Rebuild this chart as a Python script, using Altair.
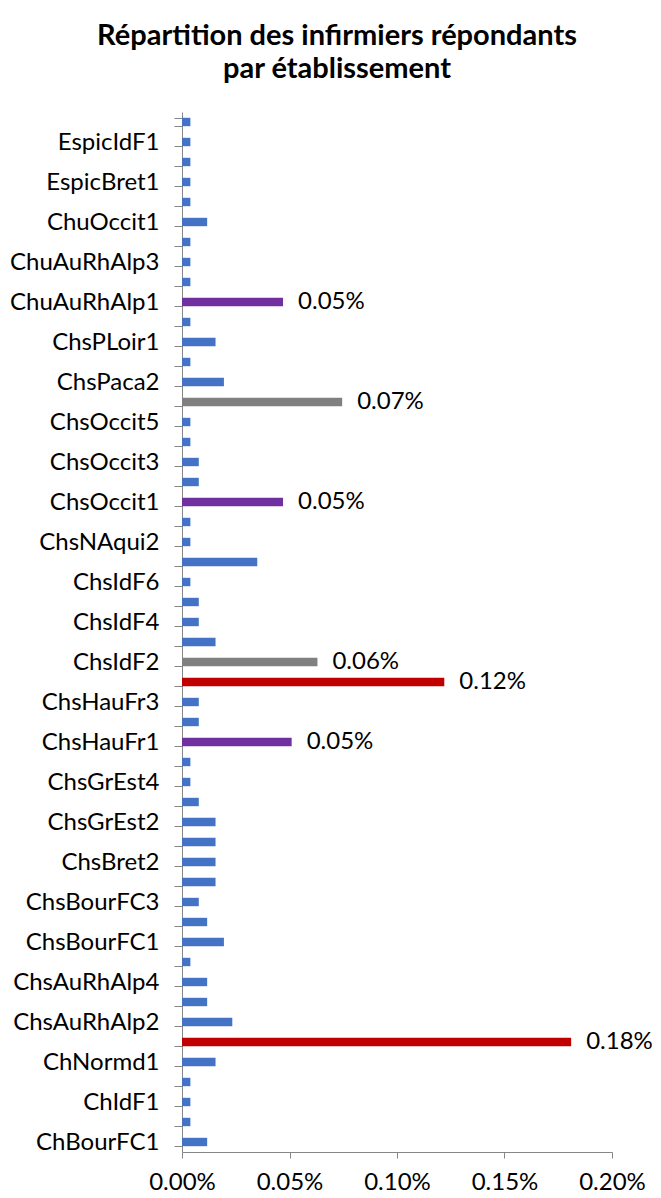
import altair as alt
import pandas as pd

# categories from bottom to top (as in the original chart)
categories = [
    "ChBourFC1", "ChGrEst1", "ChIdF1", "ChIdF2", "ChNormd1", "ChsAuRhAlp1",
    "ChsAuRhAlp2", "ChsAuRhAlp3", "ChsAuRhAlp4", "ChsAuRhAlp5", "ChsBourFC1",
    "ChsBourFC2", "ChsBourFC3", "ChsBret1", "ChsBret2", "ChsGrEst1", "ChsGrEst2",
    "ChsGrEst3", "ChsGrEst4", "ChsGrEst5", "ChsHauFr1", "ChsHauFr2", "ChsHauFr3",
    "ChsIdF1", "ChsIdF2", "ChsIdF3", "ChsIdF4", "ChsIdF5", "ChsIdF6", "ChsNAqui1",
    "ChsNAqui2", "ChsNormd1", "ChsOccit1", "ChsOccit2", "ChsOccit3", "ChsOccit4",
    "ChsOccit5", "ChsPaca1", "ChsPaca2", "ChsPaca3", "ChsPLoir1", "ChsPLoir2",
    "ChuAuRhAlp1", "ChuAuRhAlp2", "ChuAuRhAlp3", "ChuBret1", "ChuOccit1",
    "ChuPaca1", "EspicBret1", "EspicGrEst1", "EspicIdF1", "EspicPaca1",
]
# share of respondents, in percent
values = [
    0.0117, 0.0039, 0.0039, 0.0039, 0.0156, 0.181,
    0.0234, 0.0117, 0.0117, 0.0039, 0.0195,
    0.0117, 0.0078, 0.0156, 0.0156, 0.0156, 0.0156,
    0.0078, 0.0039, 0.0039, 0.051, 0.0078, 0.0078,
    0.122, 0.063, 0.0156, 0.0078, 0.0078, 0.0039, 0.035,
    0.0039, 0.0039, 0.047, 0.0078, 0.0078, 0.0039,
    0.0039, 0.0745, 0.0195, 0.0039, 0.0156, 0.0039,
    0.047, 0.0039, 0.0039, 0.0039, 0.0117,
    0.0039, 0.0039, 0.0039, 0.0039, 0.0039,
]
shown_labels = categories[0::2]
x_ticks = [0.0, 0.05, 0.10, 0.15, 0.20]
title_lines = ["Répartition des infirmiers répondants", "par établissement"]

df = pd.DataFrame({"etab": categories, "v": values})

FONT = "Lato"
AXIS_GREY = "#868686"
label_list = ",".join("'" + s + "'" for s in shown_labels)

y_enc = alt.Y(
    "etab:N",
    sort=list(reversed(categories)),
    scale=alt.Scale(paddingInner=0.58, paddingOuter=0.29),
    axis=alt.Axis(
        title=None,
        labelExpr=f"indexof([{label_list}], datum.value) >= 0 ? datum.value : ''",
        labelFont=FONT,
        labelFontSize=24,
        labelColor="#000000",
        labelPadding=15,
        tickSize=8,
        tickBand="extent",
        tickColor=AXIS_GREY,
        domainColor=AXIS_GREY,
        grid=False,
        labelLimit=300,
    ),
)

x_enc = alt.X(
    "v:Q",
    scale=alt.Scale(domain=[0, 0.2], nice=False),
    axis=alt.Axis(
        title=None,
        values=x_ticks,
        labelExpr="format(datum.value, '.2f') + '%'",
        labelFont=FONT,
        labelFontSize=24,
        labelColor="#000000",
        labelBaseline="alphabetic",
        labelFlush=False,
        labelOverlap=False,
        labelPadding=31,
        tickSize=6,
        tickColor=AXIS_GREY,
        domainColor=AXIS_GREY,
        grid=False,
    ),
)

color_enc = alt.Color(
    "v:Q",
    scale=alt.Scale(
        type="threshold",
        domain=[0.045, 0.06, 0.1],
        range=["#4472C4", "#7030A0", "#808080", "#C00000"],
    ),
    legend=None,
)

bars = alt.Chart(df).mark_bar().encode(y=y_enc, x=x_enc, color=color_enc)

labels = (
    alt.Chart(df)
    .transform_filter("datum.v >= 0.045")
    .transform_calculate(lab="format(datum.v, '.2f') + '%'")
    .mark_text(align="left", baseline="middle", dx=15, font=FONT, fontSize=24, color="#000000")
    .encode(y=alt.Y("etab:N", sort=list(reversed(categories))), x="v:Q", text="lab:N")
)

chart = (
    alt.layer(bars, labels)
    .properties(
        width=430,
        height=1040,
        padding={"left": 174, "top": 104, "right": 41, "bottom": 46},
        autosize=alt.AutoSizeParams(type="none"),
        title=alt.TitleParams(
            text=title_lines,
            font=FONT,
            fontSize=29,
            fontWeight="bold",
            color="#000000",
            anchor="middle",
            frame="group",
            dx=-60,
            offset=16,
            lineHeight=33,
        ),
    )
    .configure_view(stroke=None)
)

chart.save("out.html", embed_options={"renderer": "svg", "actions": False})
